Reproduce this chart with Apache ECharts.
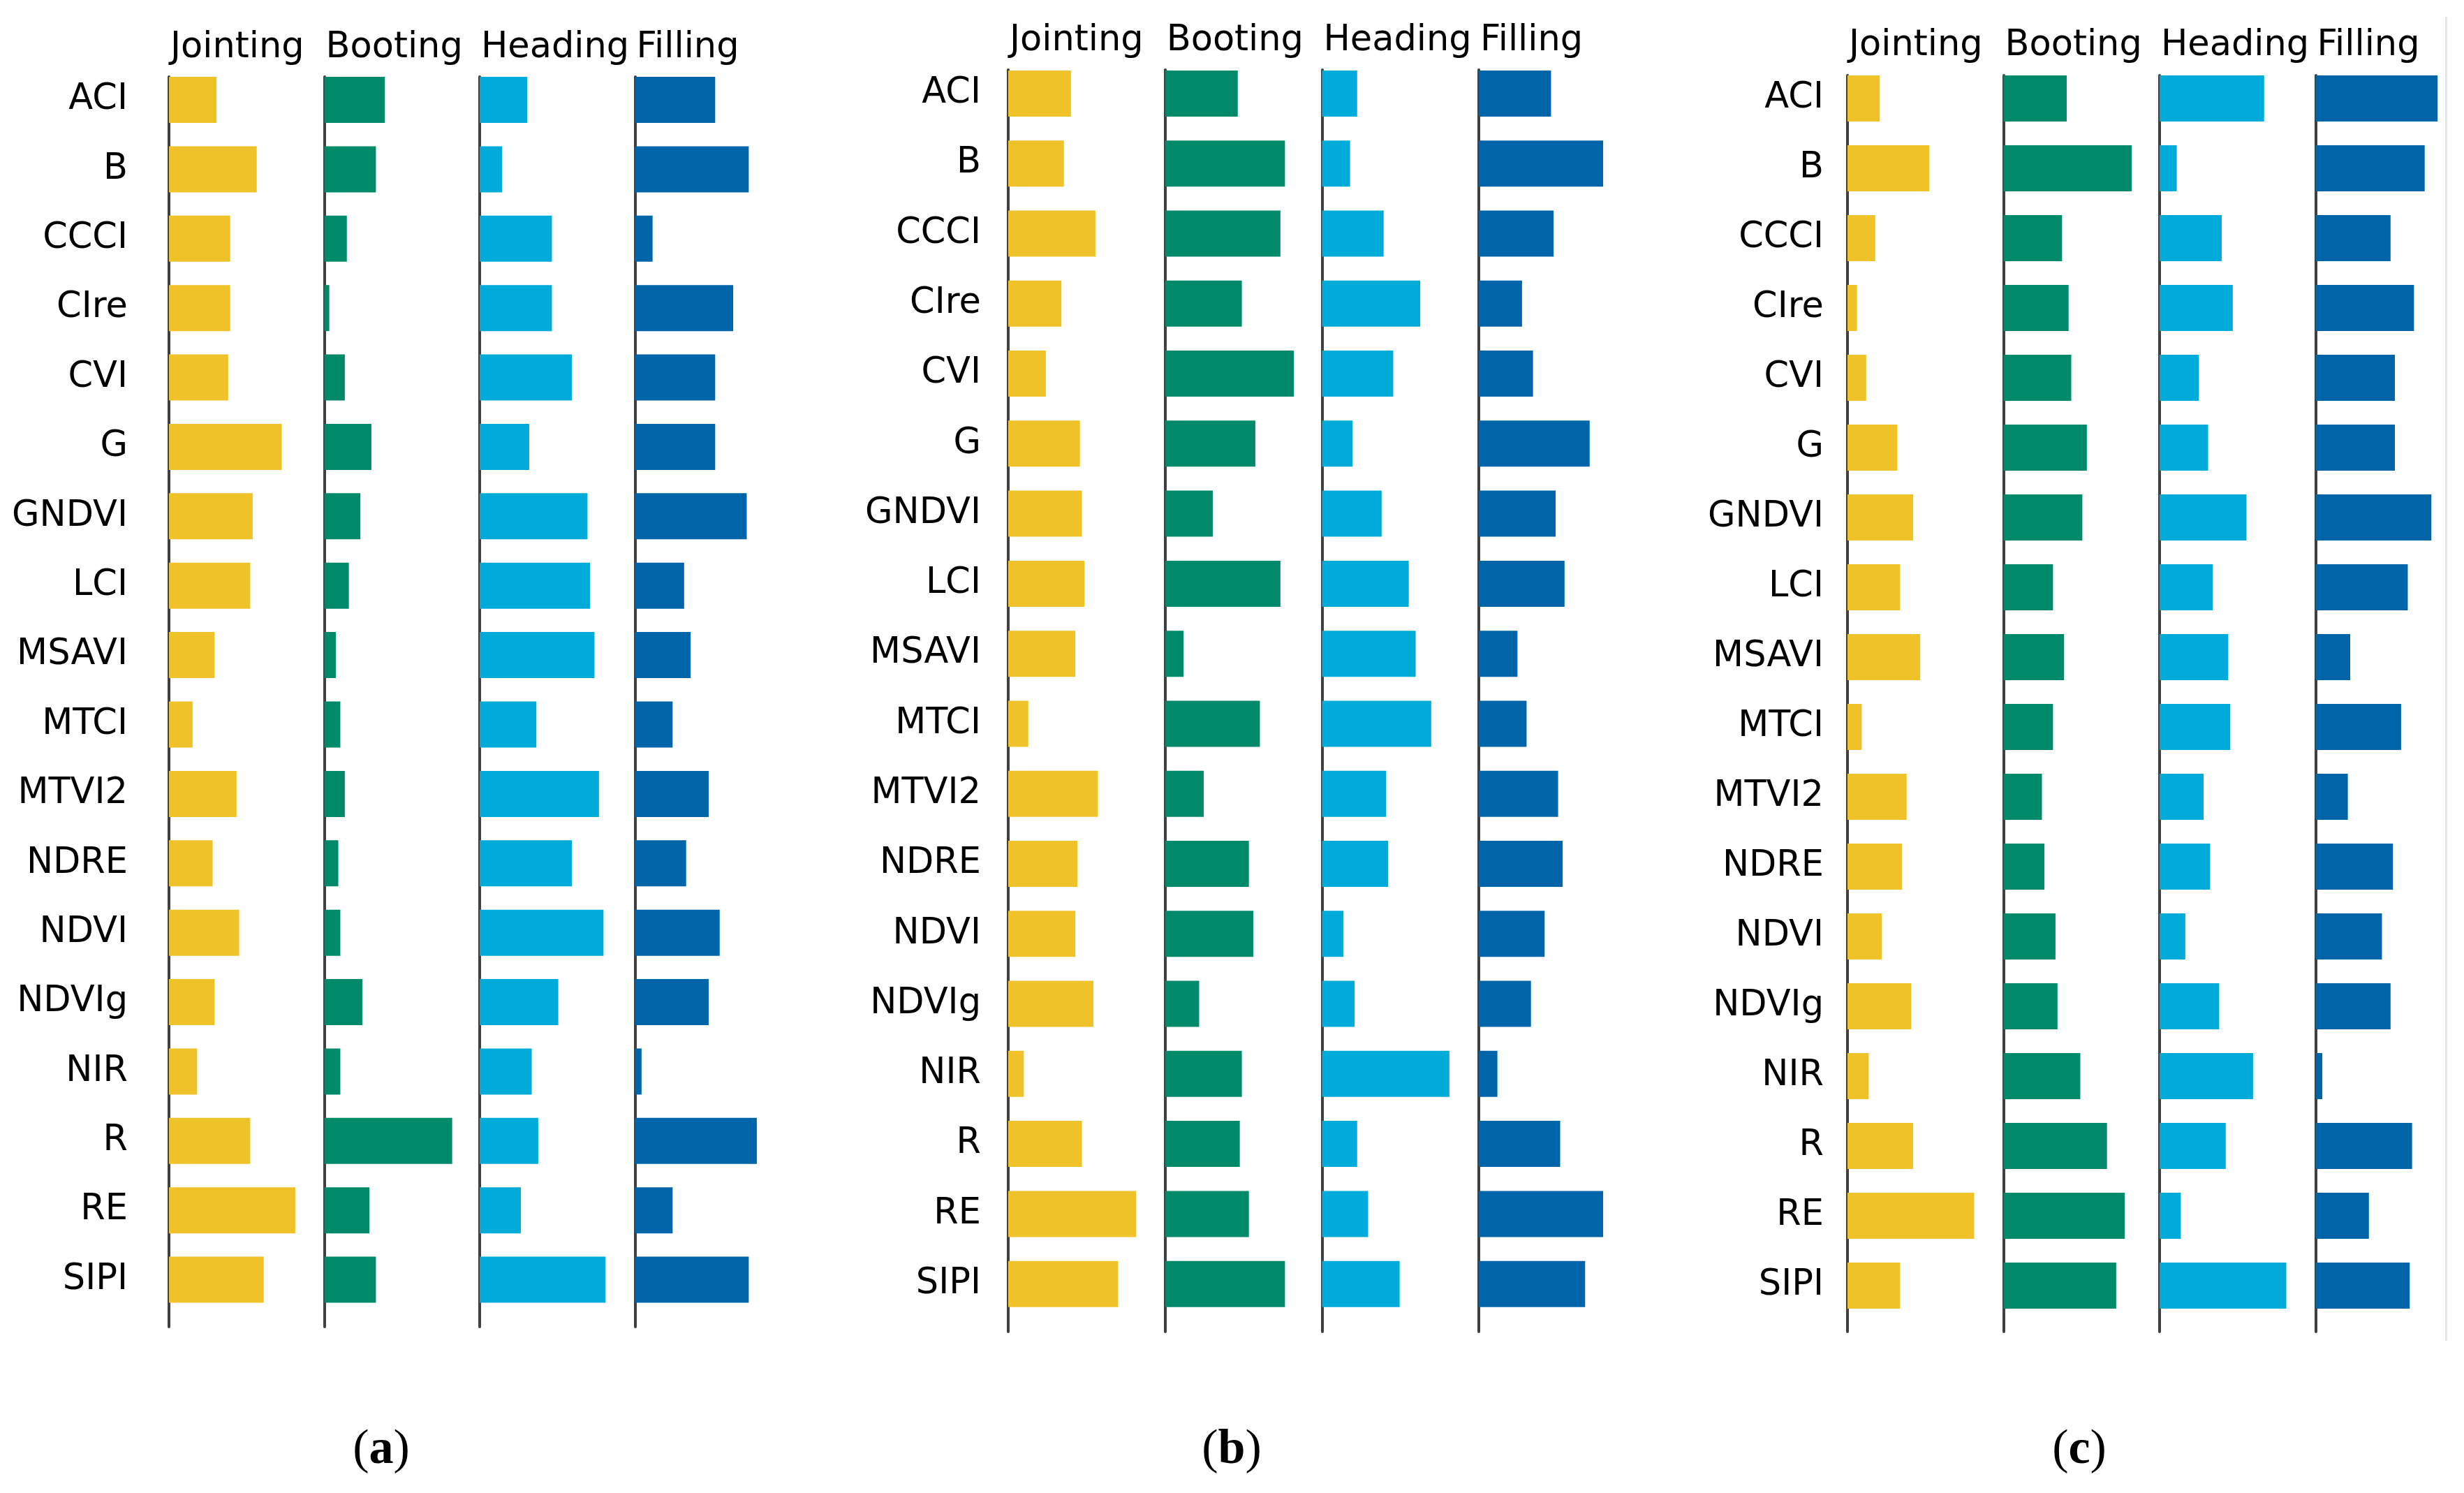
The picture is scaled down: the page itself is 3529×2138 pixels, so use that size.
<!DOCTYPE html>
<html><head><meta charset="utf-8">
<script src="https://cdn.jsdelivr.net/npm/echarts@6/dist/echarts.min.js"></script>
<style>html,body{margin:0;padding:0;background:#fff}#c{width:3529px;height:2138px}</style>
</head><body><div id="c"></div>
<script>
// ---------- data ----------
const categories = ['ACI','B','CCCI','CIre','CVI','G','GNDVI','LCI','MSAVI','MTCI','MTVI2','NDRE','NDVI','NDVIg','NIR','R','RE','SIPI'];
const stages = ['Jointing','Booting','Heading','Filling'];
const panelTags = ['a','b','c'];

const aJointing = [0.306,0.565,0.394,0.394,0.381,0.726,0.539,0.523,0.294,0.152,0.435,0.281,0.452,0.294,0.181,0.523,0.813,0.610];
const aBooting  = [0.390,0.332,0.145,0.032,0.132,0.303,0.232,0.158,0.074,0.103,0.132,0.090,0.103,0.245,0.103,0.823,0.290,0.332];
const aHeading  = [0.306,0.145,0.465,0.465,0.594,0.319,0.694,0.710,0.739,0.365,0.768,0.594,0.797,0.506,0.335,0.377,0.265,0.810];
const aFilling  = [0.516,0.732,0.113,0.632,0.516,0.516,0.719,0.316,0.358,0.242,0.474,0.329,0.545,0.474,0.042,0.784,0.242,0.732];

const bJointing = [0.400,0.355,0.556,0.339,0.240,0.457,0.470,0.486,0.428,0.128,0.572,0.441,0.428,0.543,0.099,0.470,0.815,0.700];
const bBooting  = [0.463,0.764,0.735,0.489,0.821,0.575,0.304,0.735,0.118,0.604,0.246,0.534,0.562,0.217,0.489,0.476,0.534,0.764];
const bHeading  = [0.224,0.179,0.393,0.626,0.454,0.195,0.380,0.553,0.597,0.696,0.409,0.422,0.137,0.208,0.812,0.224,0.294,0.495];
const bFilling  = [0.460,0.792,0.476,0.275,0.345,0.706,0.489,0.546,0.246,0.304,0.505,0.534,0.419,0.332,0.118,0.518,0.792,0.677];

const cJointing = [0.207,0.524,0.178,0.061,0.120,0.320,0.421,0.337,0.466,0.091,0.379,0.350,0.220,0.408,0.136,0.421,0.812,0.337];
const cBooting  = [0.405,0.822,0.375,0.417,0.434,0.534,0.505,0.317,0.388,0.317,0.246,0.262,0.333,0.346,0.492,0.663,0.777,0.722];
const cHeading  = [0.670,0.110,0.398,0.469,0.252,0.311,0.557,0.340,0.440,0.453,0.282,0.324,0.165,0.382,0.599,0.424,0.136,0.812];
const cFilling  = [0.822,0.735,0.505,0.663,0.534,0.534,0.780,0.621,0.233,0.576,0.217,0.521,0.447,0.505,0.045,0.650,0.359,0.634];

const panelData = [
  [aJointing, aBooting, aHeading, aFilling],
  [bJointing, bBooting, bHeading, bFilling],
  [cJointing, cBooting, cHeading, cFilling]
];

// ---------- layout / style ----------
const stageColors = ['#F0C229', '#008A69', '#00ABDA', '#0064A9'];
const panels = [
  {axisX: 242,  step: 222.5, top: 93.3, height: 1789, lineTop: 110, lineBottom: 1900, labelMargin: 59, headerY: 69, tagX: 546},
  {axisX: 1444, step: 224.7, top: 83.8, height: 1805, lineTop: 100, lineBottom: 1907, labelMargin: 39, headerY: 59, tagX: 1764},
  {axisX: 2646, step: 223.5, top: 91,   height: 1800, lineTop: 108, lineBottom: 1907, labelMargin: 34, headerY: 66, tagX: 2978}
];
const FONT = "'DejaVu Sans', Verdana, sans-serif";
const TEXT_SIZE = 51;

const grid = [], xAxis = [], yAxis = [], series = [], graphic = [];

panels.forEach((p, pi) => {
  stages.forEach((st, ci) => {
    const gi = grid.length;
    const left = p.axisX + ci * p.step;
    grid.push({left: left, top: p.top, width: p.step, height: p.height, containLabel: false});
    xAxis.push({gridIndex: gi, type: 'value', min: 0, max: 1, show: false});
    yAxis.push({
      gridIndex: gi, type: 'category', data: categories, inverse: true,
      axisLine: {show: false}, axisTick: {show: false}, splitLine: {show: false},
      axisLabel: {show: ci === 0, margin: p.labelMargin, color: '#000', fontFamily: FONT, fontSize: TEXT_SIZE}
    });
    series.push({
      type: 'bar', xAxisIndex: gi, yAxisIndex: gi, data: panelData[pi][ci],
      barWidth: 66, itemStyle: {color: stageColors[ci]}, silent: true
    });
    // column header
    graphic.push({
      type: 'text', x: left + 2, y: p.headerY,
      style: {text: st, font: TEXT_SIZE + 'px ' + FONT, fill: '#000', align: 'left', verticalAlign: 'middle', textAlign: 'left', textVerticalAlign: 'middle'}
    });
  });
  // panel tag
  graphic.push({
    type: 'text', x: p.tagX, y: 2077,
    style: {
      text: '{n|(}{b|' + panelTags[pi] + '}{n|)}',
      align: 'center', verticalAlign: 'middle', textAlign: 'center', textVerticalAlign: 'middle',
      rich: {
        n: {fontFamily: "'Liberation Serif', 'Times New Roman', serif", fontSize: 70, fill: '#000', color: '#000'},
        b: {fontFamily: "'Liberation Serif', 'Times New Roman', serif", fontSize: 70, fontWeight: 'bold', fill: '#000', color: '#000'}
      }
    }
  });
});

// axis lines of each column (drawn by separate value axes spanning the line extent)
panels.forEach((p) => {
  stages.forEach((st, ci) => {
    const gi = grid.length;
    grid.push({left: p.axisX + ci * p.step, top: p.lineTop, width: 10, height: p.lineBottom - p.lineTop});
    xAxis.push({gridIndex: gi, type: 'value', min: 0, max: 1, show: false});
    yAxis.push({gridIndex: gi, type: 'value', min: 0, max: 1,
      axisLine: {show: true, lineStyle: {color: '#404040', width: 4}},
      axisTick: {show: false}, axisLabel: {show: false}, splitLine: {show: false}});
  });
});
// faint frame line at the right of panel (c)
(function(){
  const gi = grid.length;
  grid.push({left: 3503, top: 25, width: 10, height: 1894});
  xAxis.push({gridIndex: gi, type: 'value', min: 0, max: 1, show: false});
  yAxis.push({gridIndex: gi, type: 'value', min: 0, max: 1,
    axisLine: {show: true, lineStyle: {color: '#e6e6e6', width: 3}},
    axisTick: {show: false}, axisLabel: {show: false}, splitLine: {show: false}});
})();

const chart = echarts.init(document.getElementById('c'), null, {renderer: 'canvas'});
chart.setOption({
  backgroundColor: '#fff',
  animation: false,
  grid, xAxis, yAxis, series, graphic
});
</script>
</body></html>
